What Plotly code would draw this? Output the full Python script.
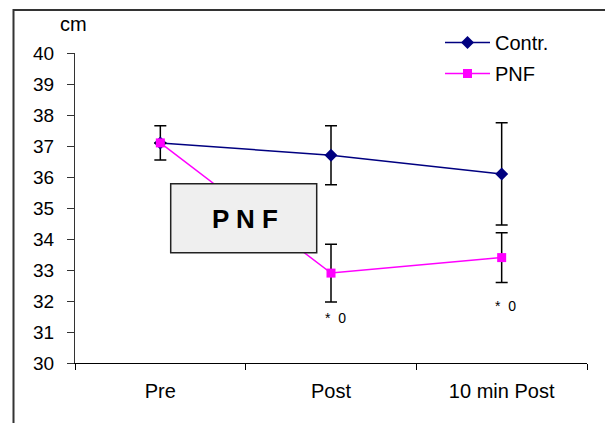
import plotly.graph_objects as go

categories = ["Pre", "Post", "10 min Post"]
contr_values = [37.1, 36.7, 36.1]
contr_err = [0.55, 0.95, 1.65]
pnf_values = [37.1, 32.9, 33.4]
pnf_err = [0.0, 0.93, 0.8]
sig_labels = ["", "*  0", "*  0"]
sig_y = [None, 31.45, 31.83]
y_ticks = list(range(30, 41))

# page body has an 8px margin, so the figure is drawn at (8, 8) in the window
OFF = 8
W, H = 613 - OFF, 423 - OFF
L, T = 75 - OFF, 53 - OFF
R = W - (587 - OFF)
B = H - (363 - OFF)
pw, ph = W - L - R, H - T - B

def px(x):  # window pixel -> paper x
    return (x - OFF - L) / pw

def py(y):  # window pixel -> paper y
    return (H + OFF - B - y) / ph

font = "Liberation Sans, Arial, sans-serif"

fig = go.Figure()
fig.add_trace(go.Scatter(
    x=categories, y=contr_values, name="Contr.", mode="lines+markers",
    legendgroup="a",
    line=dict(color="#000080", width=1.5),
    marker=dict(symbol="diamond", size=10, color="#000080"),
    error_y=dict(type="data", array=contr_err, color="black", thickness=1.5, width=6),
))
fig.add_trace(go.Scatter(
    x=categories, y=pnf_values, name="PNF", mode="lines+markers",
    legendgroup="b",
    line=dict(color="#FF00FF", width=1.5),
    marker=dict(symbol="square", size=9, color="#FF00FF"),
    error_y=dict(type="data", array=pnf_err, color="black", thickness=1.5, width=6),
))

for c, lab, yy in zip(categories, sig_labels, sig_y):
    if lab:
        fig.add_annotation(x=c, y=yy, text=lab, showarrow=False, xshift=4,
                           xanchor="center", yanchor="middle",
                           font=dict(family=font, size=14, color="black"))

# PNF label box
fig.add_shape(type="rect", xref="paper", yref="paper",
              x0=px(170.7), x1=px(316.7), y0=py(252.7), y1=py(183.7),
              line=dict(color="#222222", width=1.5), fillcolor="#efefef", layer="above")
fig.add_annotation(xref="paper", yref="paper", x=px(244.5), y=py(218.5), text="<b>P N F</b>",
                   showarrow=False, xanchor="center", yanchor="middle",
                   font=dict(family=font, size=26, color="black"))

# outer frame
fig.add_shape(type="rect", xref="paper", yref="paper",
              x0=px(13.5), x1=1.3, y0=-0.5, y1=py(10),
              line=dict(color="#333333", width=2), fillcolor="rgba(0,0,0,0)")

fig.add_annotation(xref="paper", yref="paper", x=px(73), y=py(24), text="cm",
                   showarrow=False, xanchor="center", yanchor="middle",
                   font=dict(family=font, size=20, color="black"))

fig.update_layout(
    width=W, height=H, margin=dict(l=L, r=R, t=T, b=B),
    paper_bgcolor="white", plot_bgcolor="white",
    font=dict(family=font, size=19, color="black"),
    showlegend=True,
    legend=dict(x=px(440), y=py(23), xanchor="left", yanchor="top",
                bgcolor="rgba(0,0,0,0)", itemwidth=45, tracegroupgap=2,
                font=dict(family=font, size=20, color="black")),
    xaxis=dict(type="category", range=[-0.5, 2.5], tickson="boundaries",
               ticks="outside", ticklen=6, tickcolor="black", showline=True,
               linecolor="black", linewidth=1, showgrid=False, zeroline=False,
               ticklabelstandoff=10,
               tickfont=dict(family=font, size=20)),
    yaxis=dict(range=[30, 40], tickvals=y_ticks, ticks="outside", ticklen=7,
               tickcolor="#333333", showline=True, linecolor="#333333", linewidth=1,
               showgrid=False, zeroline=False, ticklabelstandoff=9,
               tickfont=dict(family=font, size=19)),
)

fig.write_html("out.html")
